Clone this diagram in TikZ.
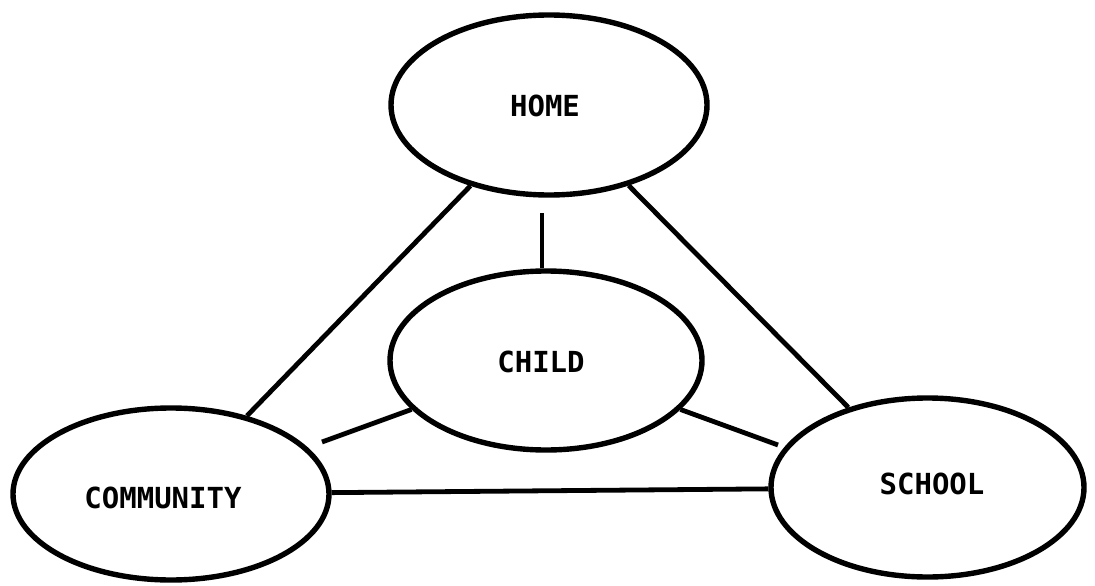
\documentclass[tikz,border=0pt]{standalone}
\usepackage{fontspec}
\setmonofont{DejaVu Sans Mono}
\usetikzlibrary{shapes.geometric}
\tikzset{
  orb/.style={draw=black, ellipse, line width=5.4pt, inner sep=0pt, fill=white},
  lbl/.style={font=\ttfamily\bfseries\fontsize{29}{29}\selectfont, inner sep=0pt},
  link/.style={draw=black, line width=4.8pt}
}
\begin{document}
\begin{tikzpicture}[x=1pt,y=-1pt]
\path[use as bounding box, fill=white] (0,0) rectangle (1095,586);
\node[orb, minimum width=316pt, minimum height=180pt,
      label={[lbl, xshift=-4pt, yshift=-1pt]center:HOME}] (home) at (549,105) {};
\node[orb, minimum width=312pt, minimum height=179pt,
      label={[lbl, xshift=-5pt, yshift=-1.5pt]center:CHILD}] (child) at (546,360.5) {};
\node[orb, minimum width=316pt, minimum height=172pt,
      label={[lbl, xshift=-8pt, yshift=-4pt]center:COMMUNITY}] (comm) at (171,494) {};
\node[orb, minimum width=313pt, minimum height=179pt,
      label={[lbl, xshift=4.5pt, yshift=3.5pt]center:SCHOOL}] (school) at (927.5,487.5) {};
\coordinate (hc) at (542,213);
\coordinate (cl) at (322,442);
\coordinate (cs) at (778,445);
\draw[link] (hc) -- (hc |- child.north);
\draw[link] (home) -- (comm);
\draw[link] (home) -- (school);
\draw[link] (child) -- (cl);
\draw[link] (child) -- (cs);
\draw[link] (comm) -- (school);
\end{tikzpicture}
\end{document}
